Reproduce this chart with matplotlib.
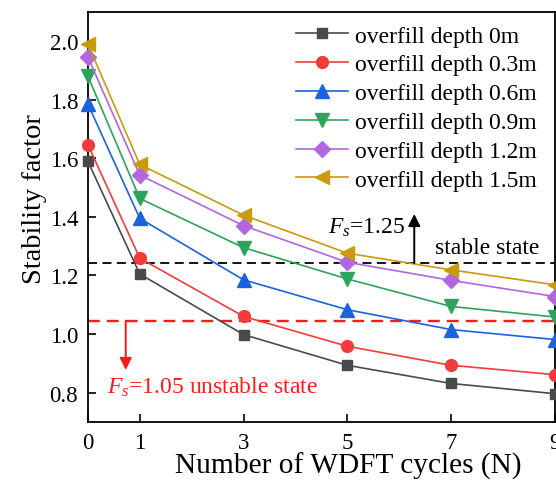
import numpy as np
import matplotlib.pyplot as plt

plt.rcParams['font.family'] = ['Liberation Serif', 'DejaVu Serif']
plt.rcParams['mathtext.fontset'] = 'custom'
plt.rcParams['mathtext.it'] = 'Liberation Serif:italic'
plt.rcParams['mathtext.rm'] = 'Liberation Serif'

# Data
cycles = [0, 1, 3, 5, 7, 9]
depth_labels = ['overfill depth 0m', 'overfill depth 0.3m', 'overfill depth 0.6m',
                'overfill depth 0.9m', 'overfill depth 1.2m', 'overfill depth 1.5m']
fs_0m = [1.59, 1.205, 0.998, 0.893, 0.831, 0.796]
fs_03m = [1.647, 1.259, 1.060, 0.958, 0.893, 0.861]
fs_06m = [1.786, 1.395, 1.185, 1.083, 1.015, 0.981]
fs_09m = [1.881, 1.463, 1.295, 1.188, 1.094, 1.058]
fs_12m = [1.946, 1.543, 1.370, 1.245, 1.183, 1.128]
fs_15m = [1.991, 1.579, 1.406, 1.276, 1.219, 1.168]
stable_fs = 1.242
unstable_fs = 1.045

series = [fs_0m, fs_03m, fs_06m, fs_09m, fs_12m, fs_15m]
colors = ['#4a4a4a', '#f23b3b', '#1c62dc', '#2ea35e', '#b366dd', '#c99a0a']
markers = ['s', 'o', '^', 'v', 'D', '<']
msizes = [7.5, 8.5, 10, 10, 8, 10]

fig = plt.figure(figsize=(5.56, 4.81), dpi=100)
ax = fig.add_axes([0.158, 0.121, 0.84, 0.852])

for vals, lab, c, m, ms in zip(series, depth_labels, colors, markers, msizes):
    ax.plot(cycles, vals, color=c, marker=m, markersize=ms, linewidth=1.2,
            label=lab, clip_on=False, zorder=3)

# threshold lines
ax.axhline(stable_fs, color='black', linestyle=(0, (5, 3)), linewidth=1.3, zorder=2)
ax.axhline(unstable_fs, color='#ff1a1a', linestyle=(0, (5, 3)), linewidth=1.7, zorder=2)

ax.annotate('', xy=(6.29, 1.41), xytext=(6.29, stable_fs),
            arrowprops=dict(arrowstyle='-|>', color='black', lw=1.4,
                            mutation_scale=18, shrinkA=0, shrinkB=0))
ax.text(6.12, 1.345, r'$F_s$=1.25', fontsize=17, ha='right', va='baseline')
ax.text(8.7, 1.276, 'stable state', fontsize=17, ha='right', va='baseline')

ax.annotate('', xy=(0.73, 0.877), xytext=(0.73, unstable_fs),
            arrowprops=dict(arrowstyle='-|>', color='#ff1a1a', lw=1.4,
                            mutation_scale=18, shrinkA=0, shrinkB=0))
ax.text(0.37, 0.80, r'$F_s$=1.05 unstable state', fontsize=17, color='#ff1a1a',
        ha='left', va='baseline')

ax.set_xlim(0, 9)
ax.set_ylim(0.7, 2.1)
ax.set_xticks(cycles)
ax.set_yticks([0.8, 1.0, 1.2, 1.4, 1.6, 1.8, 2.0])
ax.set_yticklabels(['0.8', '1.0', '1.2', '1.4', '1.6', '1.8', '2.0'])
ax.tick_params(direction='in', length=6, width=1.2, labelsize=16.5, pad=7)
for s in ax.spines.values():
    s.set_linewidth(1.3)

ax.set_xlabel('Number of WDFT cycles (N)', fontsize=21.2)
ax.xaxis.set_label_coords(0.557, -0.074)
ax.set_ylabel('Stability factor', fontsize=20.5)
ax.yaxis.set_label_coords(-0.088, 0.546)

ax.legend(loc='upper right', frameon=False, fontsize=17, handlelength=2.2,
          handletextpad=0.3, labelspacing=0.31, borderaxespad=0.15,
          bbox_to_anchor=(0.99, 1.0))

fig.savefig('out.png', dpi=100)
